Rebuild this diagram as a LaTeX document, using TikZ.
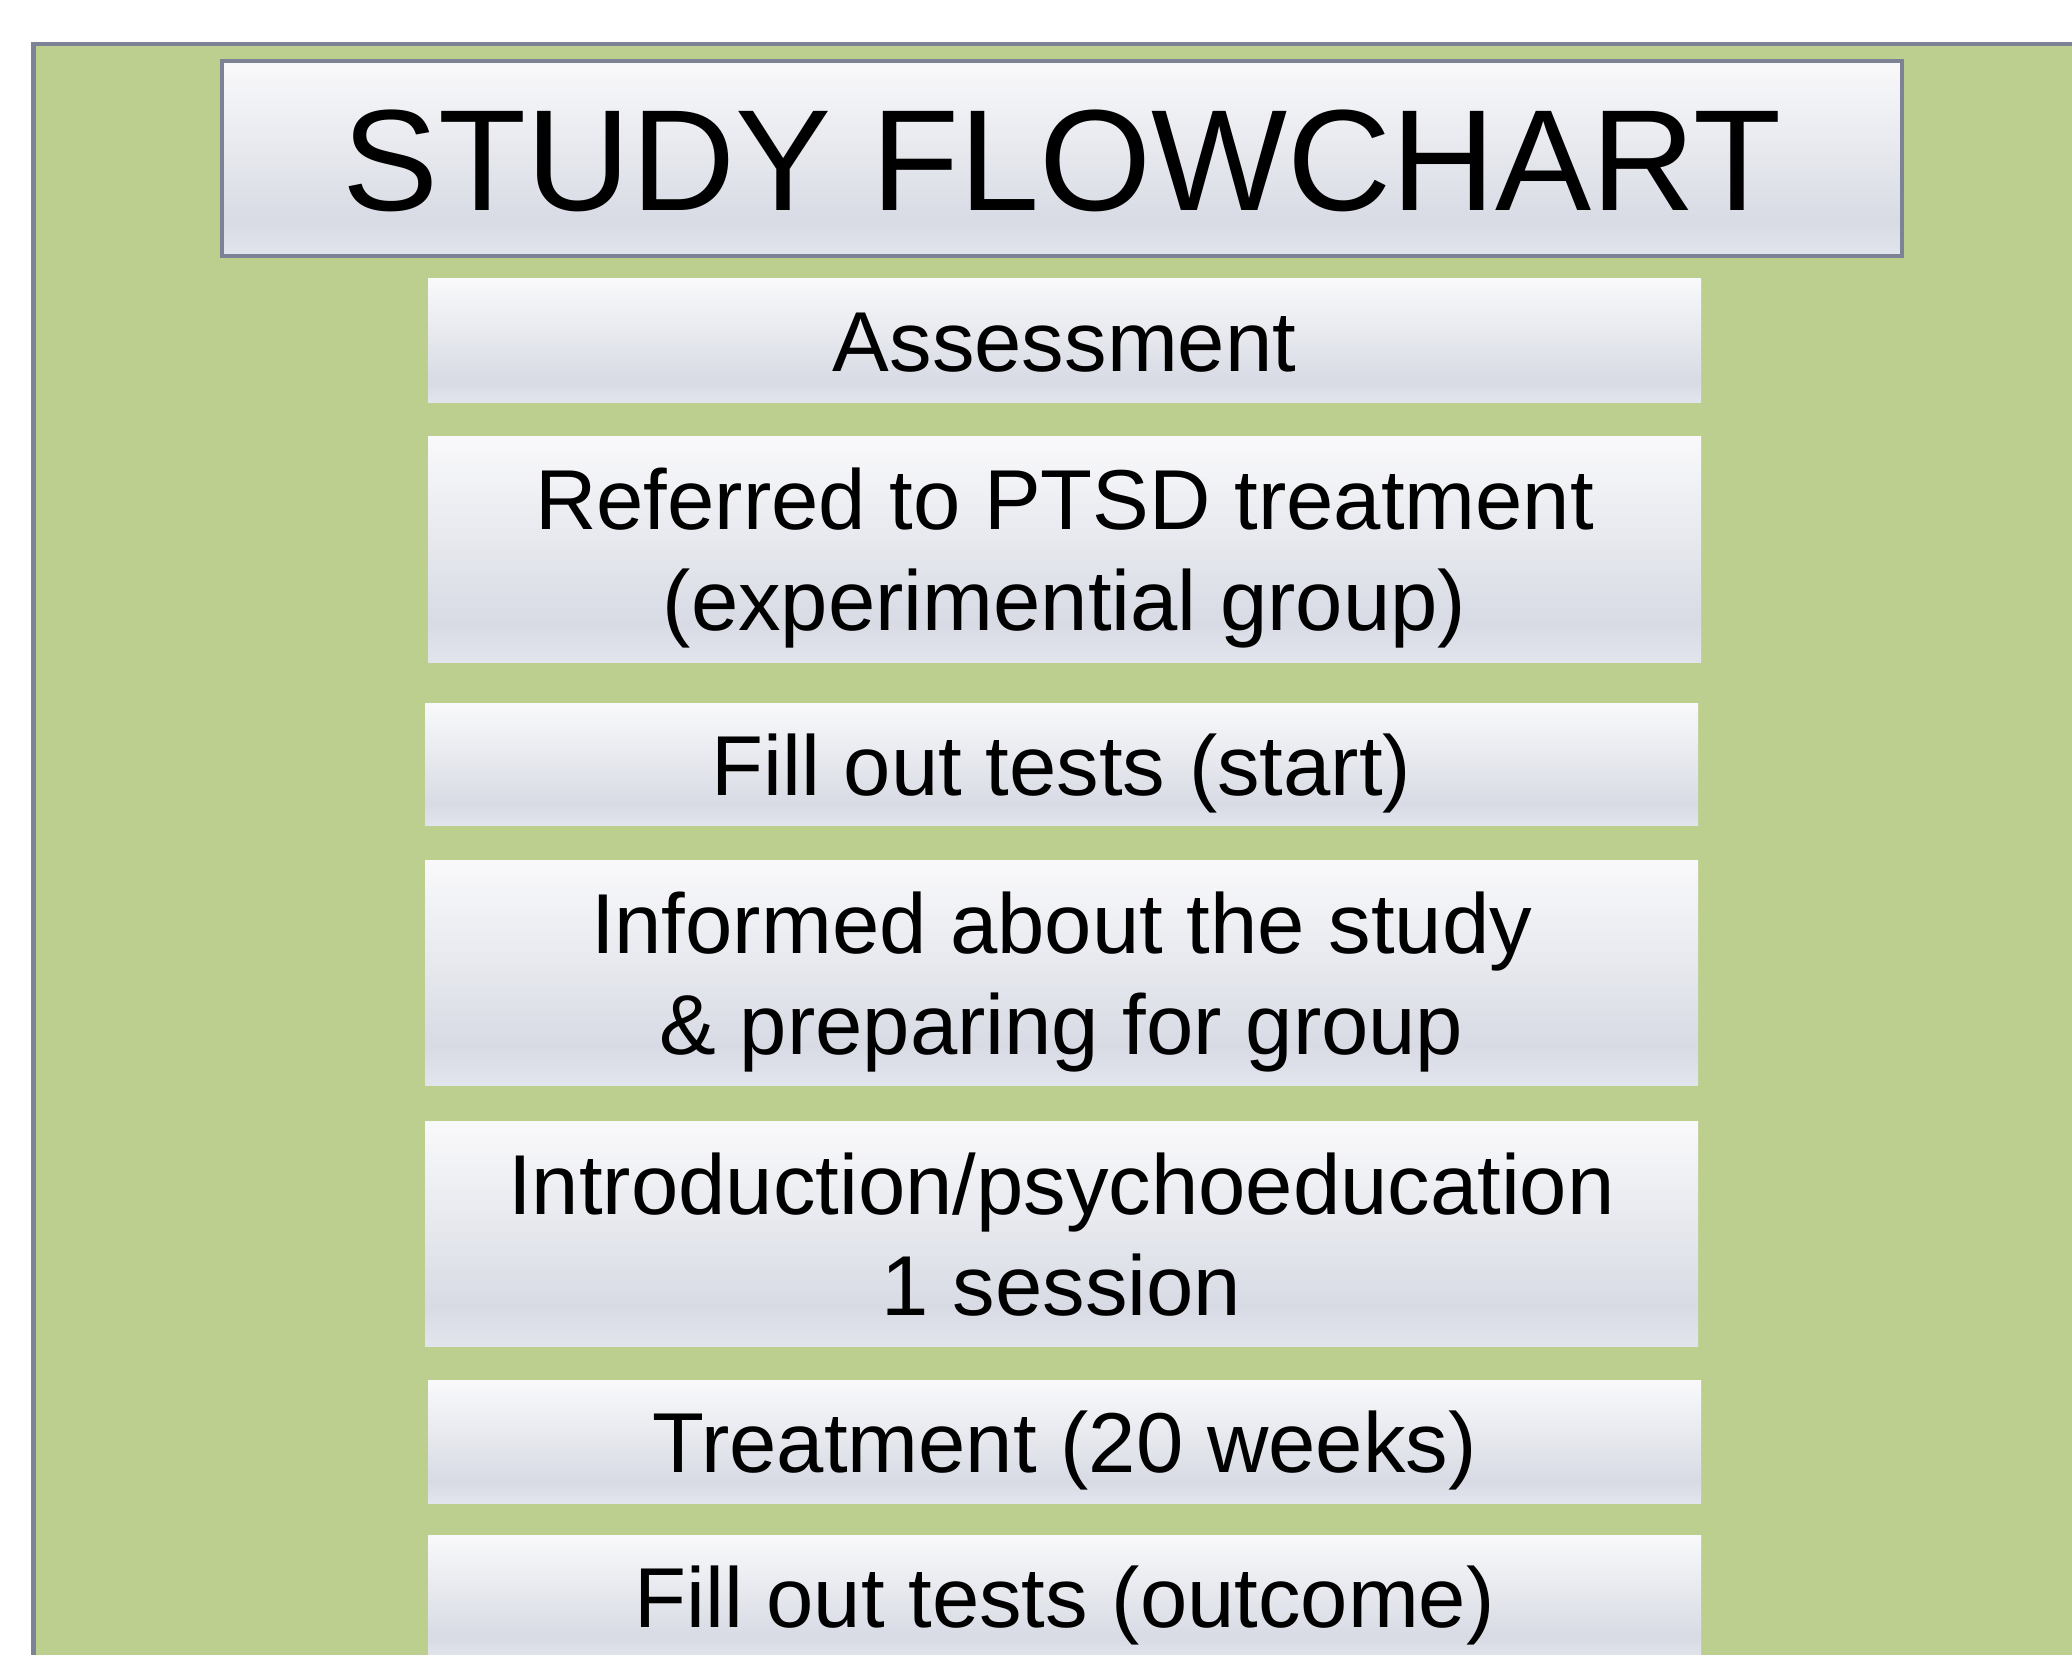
\documentclass[tikz,border=0pt]{standalone}
\usepackage{fontspec}
\setmainfont{Liberation Sans}
\usepackage{xcolor}
\usepackage{tikz}

\definecolor{frameGreen}{RGB}{189,207,143}
\definecolor{frameGray}{RGB}{125,131,148}
\definecolor{panelTop}{RGB}{249,249,251}
\definecolor{panelMid}{RGB}{229,231,237}
\definecolor{panelDark}{RGB}{216,219,228}
\definecolor{panelBot}{RGB}{227,229,237}
% light-to-grey sheen used on every stage box
\pgfdeclareverticalshading{panel}{100bp}{color(0bp)=(panelBot); color(25bp)=(panelBot);
  color(34bp)=(panelDark); color(50bp)=(panelMid); color(75bp)=(panelTop); color(100bp)=(panelTop)}

\tikzset{
  stage/.style={shading=panel, inner sep=0pt, minimum width=12.73cm, align=center,
    font=\fontsize{24.2}{28.7}\selectfont, text depth=0pt},
  oneline/.style={stage, text height=17.3pt},
  twoline/.style={stage, text height=46pt},
  headbox/.style={shading=panel, draw=frameGray, line width=0.95pt, inner sep=0pt,
    minimum width=16.8cm, minimum height=1.95cm,
    font=\fontsize{41}{48}\selectfont, text height=29.4pt, text depth=0pt}
}

\begin{document}
\begin{tikzpicture}
    \clip (0, 0) rectangle (20.72, -16.55);
    % Green backdrop
    \draw[fill=frameGreen, draw=frameGray, line width=1.4pt] (0.335, -0.44) rectangle (21.6, -17.2);

    % Title
    \node[headbox] (title) at (10.62, -1.585) {STUDY FLOWCHART};

    % Stages
    \node[oneline, minimum height=1.24cm] (assess) at (10.645, -3.41) {Assessment};
    \node[twoline, minimum height=2.26cm] (referred) at (10.645, -5.50) {Referred to PTSD treatment\\(experimential group)};
    \node[oneline, minimum height=1.22cm] (teststart) at (10.615, -7.65) {Fill out tests (start)};
    \node[twoline, minimum height=2.25cm] (informed) at (10.615, -9.735) {Informed about the study\\\& preparing for group};
    \node[twoline, minimum height=2.25cm] (intro) at (10.615, -12.345) {Introduction/psychoeducation\\1 session};
    \node[oneline, minimum height=1.22cm] (treat) at (10.645, -14.42) {Treatment (20 weeks)};
    \node[oneline, minimum height=1.24cm] (testend) at (10.645, -15.97) {Fill out tests (outcome)};
\end{tikzpicture}
\end{document}
